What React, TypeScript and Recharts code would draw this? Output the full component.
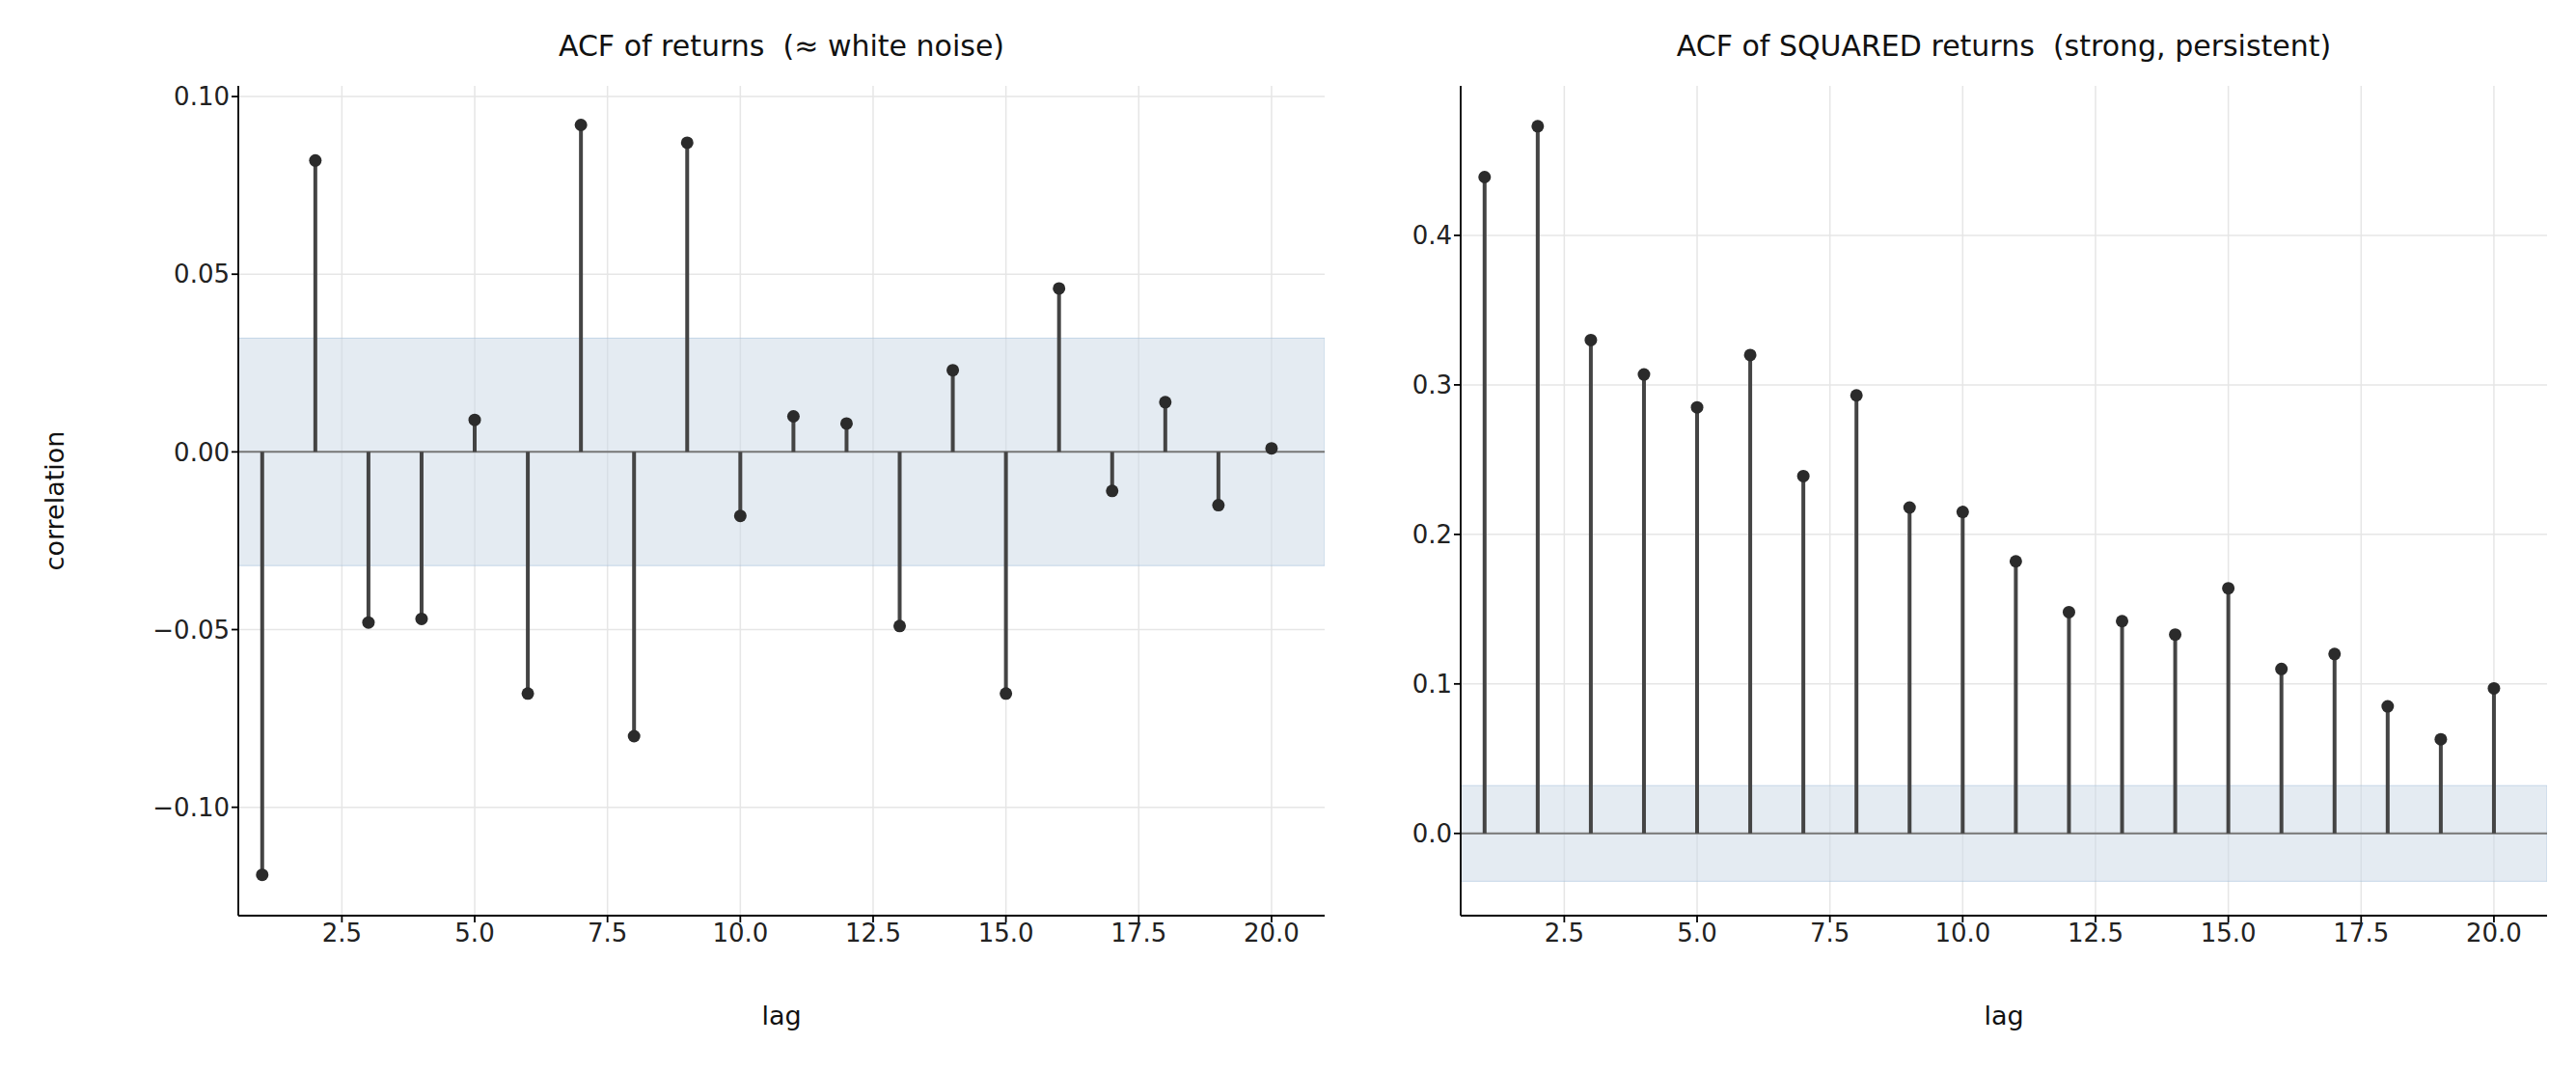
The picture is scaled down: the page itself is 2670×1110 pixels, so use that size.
import React from "react";
import { ComposedChart, Scatter, XAxis, YAxis, CartesianGrid, ReferenceLine, ReferenceArea } from "recharts";

const lags = [1,2,3,4,5,6,7,8,9,10,11,12,13,14,15,16,17,18,19,20];
const acfReturns = [-0.119,0.082,-0.048,-0.047,0.009,-0.068,0.092,-0.080,0.087,-0.018,0.010,0.008,-0.049,0.023,-0.068,0.046,-0.011,0.014,-0.015,0.001];
const acfSquared = [0.439,0.473,0.330,0.307,0.285,0.320,0.239,0.293,0.218,0.215,0.182,0.148,0.142,0.133,0.164,0.110,0.120,0.085,0.063,0.097];
const xTicks = [2.5,5,7.5,10,12.5,15,17.5,20];
const yTicksLeft = [-0.1,-0.05,0,0.05,0.1];
const yTicksRight = [0,0.1,0.2,0.3,0.4];
const band = 0.032;

const font = "DejaVu Sans, sans-serif";
const fmtN = (n: number) => (v: number) => (v < 0 ? "\u2212" : "") + Math.abs(v).toFixed(n);

function Panel({ values, yDomain, yTicks, yDigits, title, ylabel, left, width, marginLeft, marginRight }: any) {
  const data = lags.map((l, i) => ({ lag: l, v: values[i] }));
  const tick = { fontSize: 26, fill: "#222", fontFamily: font };
  return (
    <div style={{ position: "absolute", left, top: 0, width, height: 1110 }}>
      <ComposedChart width={width} height={1110} data={data}
        margin={{ top: 89, left: marginLeft, right: marginRight, bottom: 111 }}>
        <CartesianGrid stroke="#e6e6e6" strokeWidth={1.5} horizontalValues={yTicks} verticalValues={xTicks} />
        <ReferenceArea y1={-band} y2={band} fill="#c9d7e6" fillOpacity={0.5} stroke="#a9c3dc" strokeOpacity={0.6} ifOverflow="hidden" />
        <XAxis type="number" dataKey="lag" domain={[0.55, 21]} ticks={xTicks} tickFormatter={fmtN(1)}
          height={50} tick={tick} stroke="#000" strokeWidth={1.8} tickSize={7} allowDataOverflow />
        <YAxis type="number" dataKey="v" domain={yDomain} ticks={yTicks} tickFormatter={fmtN(yDigits)}
          width={80} tick={tick} stroke="#000" strokeWidth={1.8} tickSize={7} allowDataOverflow />
        <ReferenceLine y={0} stroke="#777" strokeWidth={2} />
        {data.map((d) => (
          <ReferenceLine key={d.lag} segment={[{ x: d.lag, y: 0 }, { x: d.lag, y: d.v }]} stroke="#444" strokeWidth={4} />
        ))}
        <Scatter dataKey="v" fill="#2b2b2b" isAnimationActive={false}
          shape={(p: any) => <circle cx={p.cx} cy={p.cy} r={6.5} fill="#2b2b2b" />} />
      </ComposedChart>
      <div style={{ position: "absolute", top: 30, left: marginLeft + 80, width: width - marginLeft - 80 - marginRight, textAlign: "center", fontSize: 30, fontFamily: font, color: "#111", whiteSpace: "pre" }}>{title}</div>
      <div style={{ position: "absolute", top: 1037, left: marginLeft + 80, width: width - marginLeft - 80 - marginRight, textAlign: "center", fontSize: 27, fontFamily: font, color: "#111" }}>lag</div>
      {ylabel && (
        <div style={{ position: "absolute", left: 56, top: 519, transform: "translate(-50%,-50%) rotate(-90deg)", fontSize: 27, fontFamily: font, color: "#111", whiteSpace: "nowrap" }}>{ylabel}</div>
      )}
    </div>
  );
}

export default function App() {
  return (
    <div style={{ position: "absolute", left: 0, top: 0, width: 2670, height: 1110, background: "#fff" }}>
      <Panel values={acfReturns} yDomain={[-0.1305, 0.103]} yTicks={yTicksLeft} yDigits={2}
        title="ACF of returns  (≈ white noise)" ylabel="correlation" left={0} width={1400} marginLeft={167} marginRight={27} />
      <Panel values={acfSquared} yDomain={[-0.055, 0.5]} yTicks={yTicksRight} yDigits={1}
        title="ACF of SQUARED returns  (strong, persistent)" left={1400} width={1270} marginLeft={34} marginRight={30} />
    </div>
  );
}
